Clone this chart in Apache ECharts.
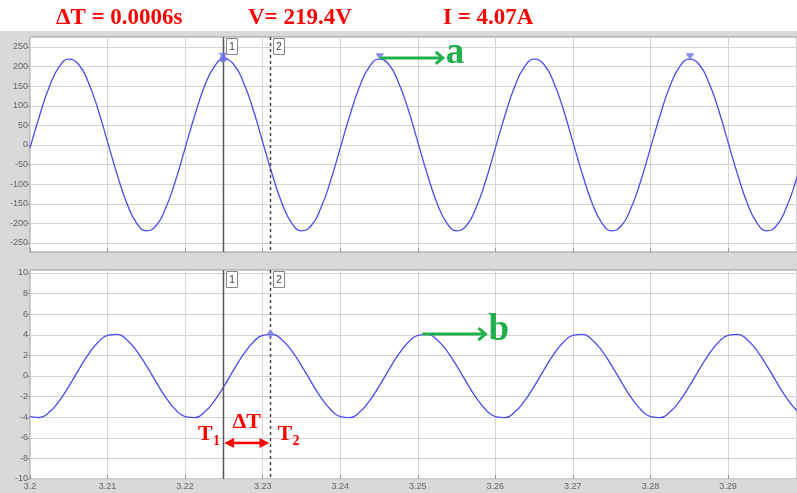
<!DOCTYPE html>
<html>
<head>
<meta charset="utf-8">
<script src="https://cdn.jsdelivr.net/npm/echarts@6/dist/echarts.min.js"></script>
<style>html,body{margin:0;padding:0;background:#fff}#c{width:797px;height:493px}</style>
</head>
<body>
<div id="c"></div>
<script>
// ---- data ----
const sampleTimes = [3.2,3.20125,3.2025,3.20375,3.205,3.20625,3.2075,3.20875,
3.21,3.21125,3.2125,3.21375,3.215,3.21625,3.2175,3.21875,
3.22,3.22125,3.2225,3.22375,3.225,3.22625,3.2275,3.22875,
3.23,3.23125,3.2325,3.23375,3.235,3.23625,3.2375,3.23875,
3.24,3.24125,3.2425,3.24375,3.245,3.24625,3.2475,3.24875,
3.25,3.25125,3.2525,3.25375,3.255,3.25625,3.2575,3.25875,
3.26,3.26125,3.2625,3.26375,3.265,3.26625,3.2675,3.26875,
3.27,3.27125,3.2725,3.27375,3.275,3.27625,3.2775,3.27875,
3.28,3.28125,3.2825,3.28375,3.285,3.28625,3.2875,3.28875,
3.29,3.29125,3.2925,3.29375,3.295,3.29625,3.2975,3.29875,3.3];
const voltage = [-8,76,149,199,219,206,161,92,
8,-76,-149,-199,-219,-206,-161,-92,
-8,76,150,199,220,206,161,92,
8,-76,-149,-199,-219,-206,-161,-92,
-8,76,149,199,219,206,160,92,
8,-76,-149,-199,-219,-206,-161,-92,
-8,76,149,199,219,206,161,92,
8,-76,-149,-199,-219,-206,-161,-92,
-8,76,149,199,219,206,161,92,
8,-76,-149,-199,-219,-206,-161,-92,-8];
const current = [-3.94,-4.03,-3.50,-2.44,-1.01,0.57,2.07,3.25,
3.94,4.04,3.50,2.44,1.01,-0.57,-2.07,-3.25,
-3.94,-4.04,-3.50,-2.44,-1.01,0.57,2.07,3.25,
3.95,4.04,3.50,2.44,1.01,-0.57,-2.07,-3.25,
-3.94,-4.04,-3.50,-2.44,-1.01,0.57,2.07,3.25,
3.94,4.04,3.50,2.44,1.01,-0.57,-2.07,-3.25,
-3.94,-4.04,-3.50,-2.44,-1.01,0.57,2.07,3.25,
3.94,4.04,3.50,2.44,1.01,-0.57,-2.07,-3.25,
-3.94,-4.04,-3.50,-2.44,-1.01,0.57,2.07,3.25,
3.94,4.04,3.50,2.44,1.01,-0.57,-2.07,-3.25,-3.94];
const voltPeakTimes = [3.2249, 3.2451, 3.2851];
const voltPeakValues = [220, 219, 219];
const cursorTimes = [3.2249, 3.2310];
const cursorNames = ['1', '2'];
const cursorVoltage = 220;
const cursorCurrent = 4.07;
const anchorA = [3.2451, 222];
const anchorB = [3.2506, 4.07];
const deltaArrowLevel = -6.5;
const headerTexts = ['ΔT = 0.0006s', 'V= 219.4V', 'I = 4.07A'];
const xTicks = {min: 3.2, max: 3.2989, interval: 0.01};
const vTicks = {min: -250, max: 250, interval: 50};
const iTicks = {min: -10, max: 10, interval: 2};

// ---- chart ----
const chart = echarts.init(document.getElementById('c'), null, {renderer: 'canvas'});
const LINE = '#4b4bf2';
const GRIDC = '#d4d4d4';
const labelStyle = {color: '#666', fontSize: 9, fontFamily: 'Liberation Sans'};

const volt = sampleTimes.map((t, i) => [t, voltage[i]]);
const curr = sampleTimes.map((t, i) => [t, current[i]]);

function frameX(idx, showLabels) {
  return {
    gridIndex: idx, type: 'value', min: xTicks.min, max: xTicks.max, interval: xTicks.interval,
    axisLine: {show: false},
    axisTick: {show: true, inside: true, length: 4, lineStyle: {color: '#999'}},
    splitLine: {show: true, lineStyle: {color: GRIDC, width: 1}},
    axisLabel: {show: showLabels, ...labelStyle, margin: 3, showMaxLabel: false,
      formatter: v => String(+v.toFixed(2))}
  };
}
function hiddenX(idx) {
  return {gridIndex: idx, type: 'value', min: xTicks.min, max: xTicks.max, show: false};
}
function dataY(idx, t) {
  return {
    gridIndex: idx, type: 'value', min: t.min, max: t.max, interval: t.interval,
    axisLine: {show: false},
    axisTick: {show: true, length: 3, lineStyle: {color: '#999'}},
    splitLine: {show: true, lineStyle: {color: GRIDC, width: 1}},
    axisLabel: {...labelStyle, margin: 2}
  };
}

const option = {
  backgroundColor: '#d9d9d9',
  animation: false,
  grid: [
    {left: 30, right: -1, top: 37, height: 215, show: true, backgroundColor: '#fff', borderColor: '#9a9a9a', borderWidth: 1},
    {left: 30, right: -1, top: 47, height: 196, show: false},
    {left: 30, right: -1, top: 270, height: 209, show: true, backgroundColor: '#fff', borderColor: '#9a9a9a', borderWidth: 1},
    {left: 30, right: -1, top: 273, height: 206, show: false}
  ],
  xAxis: [frameX(0, false), hiddenX(1), frameX(2, true), hiddenX(3)],
  yAxis: [
    {gridIndex: 0, type: 'value', min: 0, max: 1, show: false},
    dataY(1, vTicks),
    {gridIndex: 2, type: 'value', min: 0, max: 1, show: false},
    dataY(3, iTicks)
  ],
  series: [
    {type: 'line', xAxisIndex: 1, yAxisIndex: 1, data: volt, smooth: true, showSymbol: false,
     lineStyle: {color: LINE, width: 1.3}, z: 3},
    {type: 'line', xAxisIndex: 3, yAxisIndex: 3, data: curr, smooth: true, showSymbol: false,
     lineStyle: {color: LINE, width: 1.3}, z: 3},
    {type: 'scatter', xAxisIndex: 1, yAxisIndex: 1,
     data: voltPeakTimes.map((t, i) => [t, voltPeakValues[i]]),
     symbol: 'triangle', symbolRotate: 180, symbolSize: [9, 6], symbolOffset: [0, -3],
     itemStyle: {color: '#6b6bf0'}, z: 6},
    {type: 'scatter', xAxisIndex: 1, yAxisIndex: 1,
     data: [[cursorTimes[0], cursorVoltage]], symbol: 'circle', symbolSize: 7,
     itemStyle: {color: '#7070ee'}, z: 6},
    {type: 'scatter', xAxisIndex: 3, yAxisIndex: 3,
     data: [[cursorTimes[1], cursorCurrent]], symbol: 'diamond', symbolSize: [8, 9],
     itemStyle: {color: '#8080f0'}, z: 6}
  ]
};
chart.setOption(option);

// ---- annotations placed through the chart's own scales ----
const g = [];
function txt(x, y, s, font, fill, align) {
  g.push({type: 'text', z: 20, x: x, y: y,
    style: {text: s, fill: fill, font: font, textAlign: align || 'left',
      verticalAlign: 'middle', textVerticalAlign: 'middle'}});
}
g.push({type: 'rect', shape: {x: 0, y: 0, width: 797, height: 31}, style: {fill: '#fff'}, z: 1});
const headX = [56, 248, 443];
headerTexts.forEach((s, i) => txt(headX[i], 18, s, 'bold 23px "Liberation Serif"', '#ff0000'));

const topY0 = chart.convertToPixel({yAxisIndex: 0}, 1);
const topY1 = chart.convertToPixel({yAxisIndex: 0}, 0);
const botY0 = chart.convertToPixel({yAxisIndex: 2}, 1);
const botY1 = chart.convertToPixel({yAxisIndex: 2}, 0);
cursorTimes.forEach((t, i) => {
  const x = Math.round(chart.convertToPixel({xAxisIndex: 0}, t)) + 0.5;
  const ls = {stroke: i === 0 ? '#555' : '#444', lineWidth: 1.5, lineDash: i === 0 ? null : [3, 3]};
  [[topY0, topY1], [botY0, botY1]].forEach(([a, b]) => {
    g.push({type: 'line', z: 5, shape: {x1: x, y1: a, x2: x, y2: b}, style: ls});
    g.push({type: 'rect', z: 7, shape: {x: x + 3, y: a + 1.5, width: 11, height: 16},
      style: {fill: '#fff', stroke: '#888', lineWidth: 1}});
    g.push({type: 'text', z: 8, x: x + 8.5, y: a + 10,
      style: {text: cursorNames[i], fill: '#444', font: '10px "Liberation Sans"', textAlign: 'center',
        verticalAlign: 'middle', textVerticalAlign: 'middle'}});
  });
});

const GREEN = '#1fb04c';
function greenArrow(p, letter, dy) {
  const x1 = p[0], y = p[1], x2 = p[0] + 63;
  g.push({type: 'line', z: 9, shape: {x1: x1, y1: y, x2: x2 - 1, y2: y}, style: {stroke: GREEN, lineWidth: 3}});
  g.push({type: 'polyline', z: 9, shape: {points: [[x2 - 7, y - 6], [x2, y], [x2 - 7, y + 6]]},
    style: {stroke: GREEN, lineWidth: 3, fill: null}});
  txt(x2 + 3, y + dy, letter, 'bold 37px "Liberation Serif"', GREEN);
}
const pA = chart.convertToPixel({xAxisIndex: 1, yAxisIndex: 1}, anchorA);
const pB = chart.convertToPixel({xAxisIndex: 3, yAxisIndex: 3}, anchorB);
greenArrow([pA[0], pA[1]], 'a', -4.5);
greenArrow([pB[0], pB[1]], 'b', -3.5);

const RED = '#ff0000';
const c1 = chart.convertToPixel({xAxisIndex: 2}, cursorTimes[0]);
const c2 = chart.convertToPixel({xAxisIndex: 2}, cursorTimes[1]);
const ay = chart.convertToPixel({yAxisIndex: 3}, deltaArrowLevel);
g.push({type: 'line', z: 9, shape: {x1: c1 + 8, y1: ay, x2: c2 - 8, y2: ay}, style: {stroke: RED, lineWidth: 2.5}});
g.push({type: 'polygon', z: 9, shape: {points: [[c1 + 1, ay], [c1 + 11, ay - 5], [c1 + 11, ay + 5]]}, style: {fill: RED}});
g.push({type: 'polygon', z: 9, shape: {points: [[c2 - 1, ay], [c2 - 11, ay - 5], [c2 - 11, ay + 5]]}, style: {fill: RED}});
const redFont = 'bold 22px "Liberation Serif"';
const subFont = 'bold 14px "Liberation Serif"';
txt((c1 + c2) / 2, ay - 20.5, 'ΔT', redFont, RED, 'center');
txt(c1 - 25, ay - 8.5, 'T', redFont, RED);
txt(c1 - 10, ay - 2, '1', subFont, RED);
txt(c2 + 7, ay - 8.5, 'T', redFont, RED);
txt(c2 + 22, ay - 2, '2', subFont, RED);

chart.setOption({graphic: {elements: g}});
</script>
</body>
</html>
